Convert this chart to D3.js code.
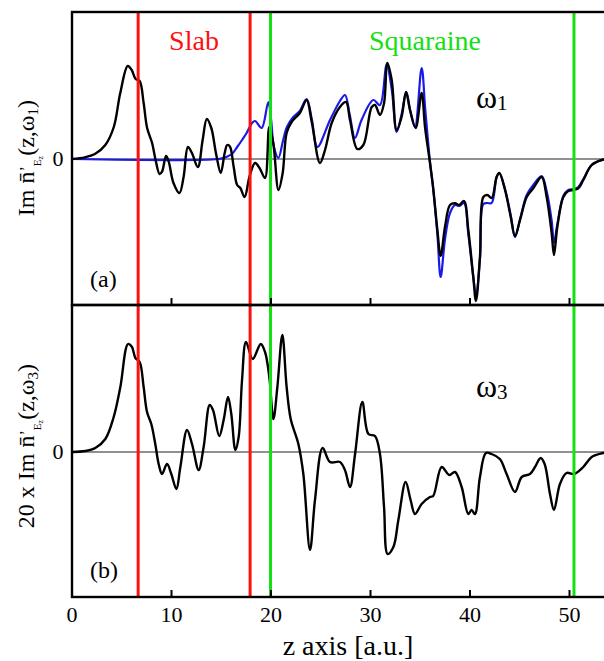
<!DOCTYPE html>
<html>
<head>
<meta charset="utf-8">
<script src="https://cdn.jsdelivr.net/npm/d3@7"></script>
<style>
  body { margin: 0; background: #fff; }
  text { font-family: "Liberation Serif", "DejaVu Serif", serif; }
</style>
</head>
<body>
<div id="content"></div>
<script>
// panel (a): black curve (total), blue curve (squaraine part)
var zTop = [0,1.3,2.3,3.35,4.2,4.85,5.6,6.0,6.4,6.8,7.2,7.55,8.05,8.4,8.8,9.05,9.45,9.72,10.2,10.8,11.22,11.65,12.05,12.65,13.13,13.55,14.0,14.47,14.95,15.34,15.6,15.88,16.25,16.6,16.92,17.35,17.85,18.4,18.85,19.4,19.83,20.23,20.75,21.17,21.57,22.07,22.9,23.58,24.09,24.92,25.43,26.1,26.93,27.54,27.94,28.68,29.28,30.12,30.45,30.95,31.36,31.69,32.13,32.63,33.13,33.57,33.97,34.54,35.14,35.48,35.95,36.3,36.72,37.05,37.49,37.99,38.49,38.93,39.4,39.83,40.33,40.6,41.0,41.34,41.74,42.18,42.68,42.95,43.52,44.09,44.52,45.03,45.7,46.36,47.2,47.7,48.21,48.44,48.78,49.38,49.88,50.38,50.89,51.39,52.23,53.24,54];
var blackTop = [0,1.7,5,14,32,66,93,89,80,78,56,31,16,-1,-15,-12.7,3,-2.7,-24,-34,-17.7,12,6,-8,19,40,31,5.7,-14,5.7,14,12.3,-8,-26,-29,-38,-17,-4,-9,-19,32,15.7,-31,-14.3,26,37,46,59,37.3,-4,9,36,52,57,39,10,14,52,54,44,55.7,96,79,29,42.3,67,49,31,66,32,-2,-29,-71,-97,-67.7,-46,-44.3,-46,-42,-71,-118,-142,-98,-38,-36,-39,-17.7,-14,-31,-57.7,-77,-61,-38,-29.3,-18,-37.7,-74.3,-96,-67.7,-38,-32,-31,-29.3,-21,-6,-1,0];

var zBlue = [0,14.7,15.5,16.08,16.6,17.09,17.55,18.1,18.4,19.06,19.73,20.0,20.3,20.74,21.2,21.6,22.24,22.9,23.58,24.1,24.66,25.93,26.93,27.44,27.9,28.44,29.1,30.28,30.95,31.62,32.13,32.63,33.13,33.6,34.0,34.47,35.14,35.5,35.95,36.3,36.72,37.05,37.49,37.99,38.49,38.93,39.4,39.83,40.33,40.6,41.0,41.34,41.74,42.18,42.68,42.95,43.52,44.09,44.52,45.03,45.7,46.36,47.2,47.7,48.21,48.44,48.78,49.38,49.88,50.38,50.89,51.39,52.23,53.24,54];
var blueTop = [0,0,2,5,12,19,26,36,38,31,57,40,12,1,18,32,42,48,60,40,12,39,58,64,45,21,39,59,54,94,70,27,45,67,48,32,91,50,0,-30,-75,-118,-80,-54,-46,-47,-44,-75,-118,-136,-100,-45,-44,-44,-18,-14,-30,-56,-78,-60,-36,-26,-17,-32,-62,-84,-65,-37,-31,-30,-28,-20,-6,-1,0];

// panel (b): 20 x Im n(z, w3)
var zBot = [0,1.34,2.34,3.35,4.19,4.86,5.63,6.03,6.37,6.8,7.2,7.54,7.97,8.37,8.71,9.05,9.55,9.98,10.49,10.89,11.56,12.06,12.73,13.23,13.84,14.17,14.8,15.24,15.68,16.01,16.42,16.75,17.09,17.49,18.16,18.97,19.4,19.83,20.24,20.64,21.14,21.57,21.98,22.75,23.25,23.92,24.42,25.19,25.93,26.93,27.43,27.94,28.45,29.18,29.79,30.45,30.95,31.36,31.72,32.3,32.8,33.53,34.03,34.47,35.14,35.98,36.3,37.15,37.92,38.49,39.16,39.83,40.16,40.5,41.0,41.6,42.17,43.0,43.68,44.52,45.2,46.03,46.53,47.1,47.5,48.04,48.44,49.04,49.7,50.45,51.38,52.23,53.36,54];
var bottomVals = [0,1,4,13,35,65,108,105,94,90,65,40,28,8,-12,-22,-12,-22,-37,-15,22,8,-18,5,47,42,16,32,55,38,2,15,72,110,93,108,100,75,33,65,117,65,33,8,-22,-98,-48,4,-10,-10,-18,-35,-2,50,18,16,-2,-55,-102,-95,-68,-30,-48,-62,-52,-45,-44,-15,-23,-20,-35,-62,-58,-62,-25,-1,-2,-7,-22,-40,-25,-22,-15,-6,-12,-42,-58,-32,-21,-22,-15,-5,-1,0];

var slabEdges = [6.65, 17.9];
var squaraineEdges = [19.95, 50.45];
var xTicks = [10, 20, 30, 40, 50];
var xTickLabels = ['0', '10', '20', '30', '40', '50'];

var width = 604, height = 661;
var left = 72, right = 609.3;
var svg = d3.select('#content').append('svg').attr('width', width).attr('height', height);

var x = d3.scaleLinear().domain([0, 54]).range([left, right]);
var yTop = d3.scaleLinear().domain([-146, 147]).range([305, 12]);
var yBot = d3.scaleLinear().domain([-145, 147]).range([597, 305]);

var panels = [
  { y: yTop, top: 12, bottom: 305, id: 'clipA' },
  { y: yBot, top: 305, bottom: 597, id: 'clipB' }
];

panels.forEach(function(p){
  svg.append('clipPath').attr('id', p.id).append('rect')
    .attr('x', left).attr('y', p.top).attr('width', right - left).attr('height', p.bottom - p.top);
  // zero line
  svg.append('line').attr('x1', left).attr('x2', right)
    .attr('y1', p.y(0)).attr('y2', p.y(0))
    .style('stroke', '#222').style('stroke-width', 1.1);
});

function curve(zs, vs, yScale) {
  var pts = zs.map(function(z, i){ return [z, vs[i]]; });
  return d3.line()
    .x(function(d){ return x(d[0]); })
    .y(function(d){ return yScale(d[1]); })
    .curve(d3.curveCatmullRom.alpha(0.5))(pts);
}

svg.append('path').attr('d', curve(zBlue, blueTop, yTop))
  .attr('clip-path', 'url(#clipA)')
  .style('fill', 'none').style('stroke', '#1a1ae8').style('stroke-width', 2.2);
svg.append('path').attr('d', curve(zTop, blackTop, yTop))
  .attr('clip-path', 'url(#clipA)')
  .style('fill', 'none').style('stroke', '#000').style('stroke-width', 2.4);
svg.append('path').attr('d', curve(zBot, bottomVals, yBot))
  .attr('clip-path', 'url(#clipB)')
  .style('fill', 'none').style('stroke', '#000').style('stroke-width', 2.4);

// region boundaries
svg.selectAll('.slab').data(slabEdges).enter().append('line')
  .attr('x1', function(d){ return x(d); }).attr('x2', function(d){ return x(d); })
  .attr('y1', 12).attr('y2', 597)
  .style('stroke', '#ff1010').style('stroke-width', 3);
svg.selectAll('.sq').data(squaraineEdges).enter().append('line')
  .attr('x1', function(d){ return x(d); }).attr('x2', function(d){ return x(d); })
  .attr('y1', 12).attr('y2', 597)
  .style('stroke', '#14e014').style('stroke-width', 3);

// frames and ticks
panels.forEach(function(p){
  svg.append('rect').attr('x', left).attr('y', p.top)
    .attr('width', right - left + 10).attr('height', p.bottom - p.top)
    .style('fill', 'none').style('stroke', '#000').style('stroke-width', 2.4);
  svg.selectAll(null).data(xTicks).enter().append('line')
    .attr('x1', function(d){ return x(d); }).attr('x2', function(d){ return x(d); })
    .attr('y1', p.bottom).attr('y2', p.bottom - 7)
    .style('stroke', '#000').style('stroke-width', 2);
  svg.append('text').attr('x', 58).attr('y', p.y(0) + 7)
    .attr('text-anchor', 'middle').style('font-size', '22px').text('0');
});

svg.selectAll('.xl').data(xTickLabels).enter().append('text')
  .attr('x', function(d){ return x(+d); }).attr('y', 622)
  .attr('text-anchor', 'middle').style('font-size', '22px')
  .text(function(d){ return d; });

svg.append('text').attr('x', 348).attr('y', 655).attr('text-anchor', 'middle')
  .style('font-size', '28px').text('z axis [a.u.]');

// annotations
svg.append('text').attr('x', 194).attr('y', 50).attr('text-anchor', 'middle')
  .style('font-size', '28px').style('fill', '#ff1010').text('Slab');
svg.append('text').attr('x', 425).attr('y', 50).attr('text-anchor', 'middle')
  .style('font-size', '28px').style('fill', '#14e014').text('Squaraine');

function omega(xp, yp, sub) {
  var t = svg.append('text').attr('x', xp).attr('y', yp).style('font-size', '32px');
  t.append('tspan').text('\u03c9');
  t.append('tspan').attr('dy', 2).style('font-size', '21px').text(sub);
}
omega(476, 108, '1');
omega(476, 397, '3');

svg.append('text').attr('x', 90).attr('y', 287).style('font-size', '24px').text('(a)');
svg.append('text').attr('x', 90).attr('y', 578).style('font-size', '24px').text('(b)');

function ylabel(cy, prefix, sub) {
  var t = svg.append('text').attr('text-anchor', 'middle')
    .attr('transform', 'translate(34,' + cy + ') rotate(-90)')
    .style('font-size', '24px');
  t.append('tspan').text(prefix + 'Im n\u0304');
  t.append('tspan').attr('dy', -3).style('font-size', '16px').text('\u2019');
  t.append('tspan').attr('dy', 10).style('font-size', '11px').text('E');
  t.append('tspan').attr('dy', 2).style('font-size', '8px').text('z');
  t.append('tspan').attr('dy', -9).style('font-size', '24px').text('(z,\u03c9');
  t.append('tspan').attr('dy', 4).style('font-size', '15px').text(sub);
  t.append('tspan').attr('dy', -4).style('font-size', '24px').text(')');
}
ylabel(158, '', '1');
ylabel(446, '20 x ', '3');
</script>
</body>
</html>
